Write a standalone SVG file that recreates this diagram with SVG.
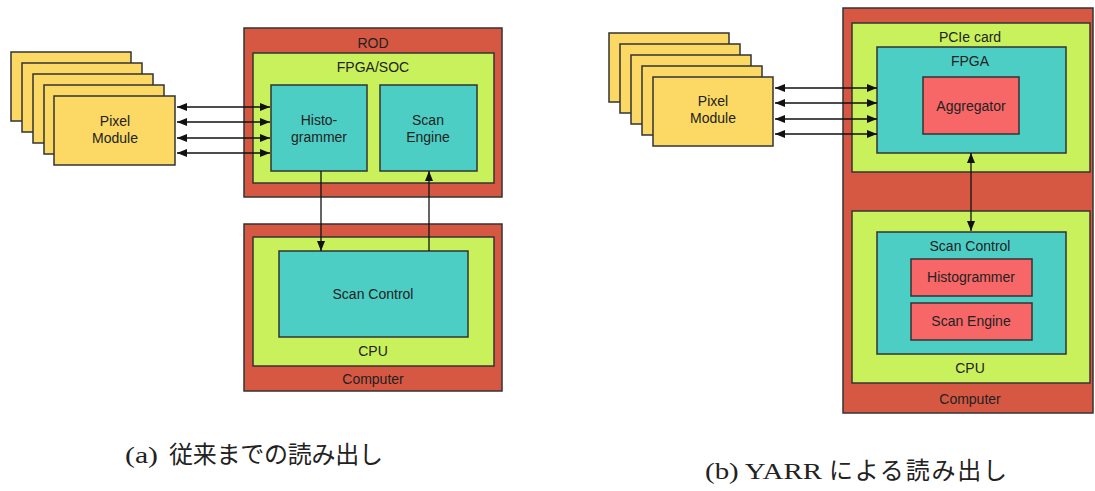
<svg xmlns="http://www.w3.org/2000/svg" width="1095" height="491" viewBox="0 0 1095 491">
  <defs>
    <marker id="ah" viewBox="0 0 10 8" refX="10" refY="4" markerWidth="10" markerHeight="8" markerUnits="userSpaceOnUse" orient="auto-start-reverse">
      <path d="M0,0 L10,4 L0,8 Z" fill="#111"/>
    </marker>
  </defs>
  <style>
    .box { stroke: #333; stroke-width: 1.5; }
    .outer { fill: #D65843; }
    .lime { fill: #C9F15C; }
    .teal { fill: #4DCEC4; }
    .pixel { fill: #FBD964; }
    .core { fill: #F76767; }
    .lbl { font-family: "Liberation Sans", Arial, sans-serif; font-size: 14px; fill: #222; text-anchor: middle; }
    .cap { font-family: "Liberation Serif", "Noto Sans CJK JP", serif; font-size: 24px; fill: #222; }
    .link { stroke: #111; stroke-width: 1.3; fill: none; }
    .dbl { marker-start: url(#ah); marker-end: url(#ah); }
    .one { marker-end: url(#ah); }
  </style>

  <rect width="1095" height="491" fill="#fff"/>

  <!-- (a) conventional readout -->
  <g id="a-pixel-modules">
    <rect class="box pixel" x="11" y="52" width="120" height="69"/>
    <rect class="box pixel" x="22" y="63" width="120" height="69"/>
    <rect class="box pixel" x="33" y="74" width="120" height="69"/>
    <rect class="box pixel" x="44" y="85" width="120" height="69"/>
    <rect class="box pixel" x="54" y="96" width="121" height="69"/>
    <text class="lbl" x="115" y="126">Pixel</text>
    <text class="lbl" x="115" y="143">Module</text>
  </g>

  <g id="a-rod">
    <rect class="box outer" x="244" y="28" width="258" height="169"/>
    <text class="lbl" x="373" y="48">ROD</text>
  </g>
  <g id="a-fpga-soc">
    <rect class="box lime" x="253" y="53" width="241" height="130"/>
    <text class="lbl" x="373" y="72">FPGA/SOC</text>
  </g>
  <g id="a-histogrammer">
    <rect class="box teal" x="271" y="85" width="96" height="86"/>
    <text class="lbl" x="319" y="125">Histo-</text>
    <text class="lbl" x="319" y="142">grammer</text>
  </g>
  <g id="a-scan-engine">
    <rect class="box teal" x="380" y="85" width="97" height="86"/>
    <text class="lbl" x="428" y="125">Scan</text>
    <text class="lbl" x="428" y="142">Engine</text>
  </g>

  <g id="a-computer">
    <rect class="box outer" x="244" y="224" width="258" height="167"/>
    <text class="lbl" x="373" y="384">Computer</text>
  </g>
  <g id="a-cpu">
    <rect class="box lime" x="253" y="237" width="241" height="129"/>
    <text class="lbl" x="373" y="356">CPU</text>
  </g>
  <g id="a-scan-control">
    <rect class="box teal" x="279" y="251" width="189" height="86"/>
    <text class="lbl" x="373" y="299">Scan Control</text>
  </g>

  <!-- (b) YARR readout -->
  <g id="b-pixel-modules">
    <rect class="box pixel" x="609" y="33" width="120" height="69"/>
    <rect class="box pixel" x="620" y="44" width="120" height="69"/>
    <rect class="box pixel" x="631" y="55" width="120" height="69"/>
    <rect class="box pixel" x="642" y="66" width="120" height="69"/>
    <rect class="box pixel" x="653" y="77" width="120" height="69"/>
    <text class="lbl" x="713" y="106">Pixel</text>
    <text class="lbl" x="713" y="123">Module</text>
  </g>

  <g id="b-computer">
    <rect class="box outer" x="843" y="8" width="250" height="405"/>
    <text class="lbl" x="970" y="404">Computer</text>
  </g>
  <g id="b-pcie-card">
    <rect class="box lime" x="852" y="23" width="238" height="149"/>
    <text class="lbl" x="970" y="42">PCIe card</text>
  </g>
  <g id="b-fpga">
    <rect class="box teal" x="877" y="47" width="189" height="106"/>
    <text class="lbl" x="970" y="66">FPGA</text>
  </g>
  <g id="b-aggregator">
    <rect class="box core" x="923" y="77" width="96" height="57"/>
    <text class="lbl" x="971" y="111">Aggregator</text>
  </g>
  <g id="b-cpu">
    <rect class="box lime" x="852" y="211" width="238" height="172"/>
    <text class="lbl" x="970" y="373">CPU</text>
  </g>
  <g id="b-scan-control">
    <rect class="box teal" x="877" y="232" width="189" height="122"/>
    <text class="lbl" x="970" y="251">Scan Control</text>
  </g>
  <g id="b-histogrammer">
    <rect class="box core" x="911" y="259" width="121" height="37"/>
    <text class="lbl" x="971" y="282">Histogrammer</text>
  </g>
  <g id="b-scan-engine">
    <rect class="box core" x="911" y="303" width="121" height="37"/>
    <text class="lbl" x="971" y="326">Scan Engine</text>
  </g>

  <g id="connectors">
    <line class="link dbl" x1="177" y1="107" x2="270" y2="107"/>
    <line class="link dbl" x1="177" y1="122" x2="270" y2="122"/>
    <line class="link dbl" x1="177" y1="138" x2="270" y2="138"/>
    <line class="link dbl" x1="177" y1="153" x2="270" y2="153"/>
    <line class="link one" x1="321" y1="171" x2="321" y2="251"/>
    <line class="link one" x1="429" y1="251" x2="429" y2="171"/>

    <line class="link dbl" x1="775" y1="88" x2="877" y2="88"/>
    <line class="link dbl" x1="775" y1="103" x2="877" y2="103"/>
    <line class="link dbl" x1="775" y1="119" x2="877" y2="119"/>
    <line class="link dbl" x1="775" y1="134" x2="877" y2="134"/>
    <line class="link dbl" x1="971" y1="153" x2="971" y2="231"/>
  </g>

  <g id="captions">
    <text class="cap" y="463"><tspan x="125" textLength="33" lengthAdjust="spacingAndGlyphs">(a)</tspan><tspan x="169" textLength="214" lengthAdjust="spacing">従来までの読み出し</tspan></text>
    <text class="cap" y="479"><tspan x="705" textLength="117" lengthAdjust="spacingAndGlyphs">(b) YARR</tspan><tspan x="829" textLength="178" lengthAdjust="spacing">による読み出し</tspan></text>
  </g>
</svg>
